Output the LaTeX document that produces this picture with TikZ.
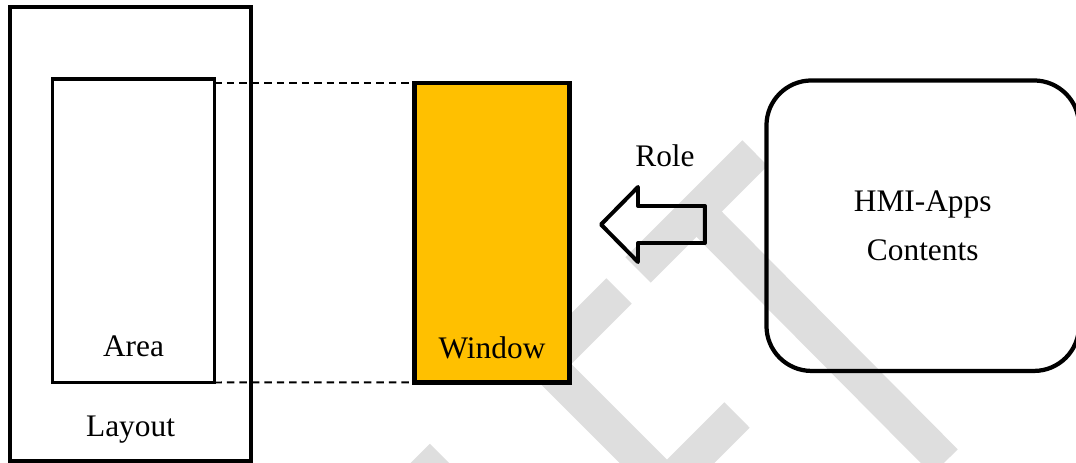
\documentclass[tikz,border=0pt]{standalone}
\usepackage{fontspec}
\setmainfont{Liberation Serif}
\usetikzlibrary{positioning}
\definecolor{winfill}{HTML}{FFC000}
\definecolor{markgray}{HTML}{DEDEDE}

\begin{document}
\begin{tikzpicture}[
    % Box styles
    layoutbox/.style={rectangle, draw=black, line width=1.55pt, inner sep=0pt, outer sep=0pt},
    windowbox/.style={rectangle, draw=black, fill=winfill, line width=1.9pt, inner sep=0pt, outer sep=0pt},
    appbox/.style={rectangle, rounded corners=0.635cm, draw=black, line width=1.7pt, align=center, inner sep=0pt, outer sep=0pt, font=\fontsize{12.6}{19.6}\selectfont},
    % Label style
    boxlabel/.style={font=\fontsize{12.6}{15}\selectfont, inner sep=0pt},
    % Mapping line style
    mapline/.style={dash pattern=on 3pt off 2pt, line width=0.8pt},
    % Block arrow style
    rolearrow/.style={draw=black, line width=1.6pt, line join=round},
    % Watermark stroke style
    markstroke/.style={markgray, line width=14.4pt}
]

    \useasboundingbox (0,0) rectangle (15.184,6.533);

    % === WATERMARK ===
    \draw[markstroke] (9.003,2.724) -- (10.654,4.374);
    \draw[markstroke] (9.828,3.549) -- (13.335,0.014);
    \draw[markstroke, line join=miter] (8.735,2.427) -- (7.705,1.397) -- (9.412,-0.310) -- (10.400,0.677);
    \draw[markstroke] (6.244,0.092) -- (5.544,-0.608);

    % === LAYOUT ===
    \node[layoutbox, minimum width=3.401cm, minimum height=6.406cm] (layout) at (1.842,3.231) {};
    \node[boxlabel, anchor=base] (layouttext) at ([yshift=0.346cm]layout.south) {Layout};

    % Area inside the layout
    \node[layoutbox, minimum width=2.286cm, minimum height=4.283cm] (area) at (1.884,3.277) {};
    \node[boxlabel, anchor=base] (areatext) at ([yshift=0.36cm]area.south) {Area};

    % === WINDOW ===
    \node[windowbox, minimum width=2.187cm, minimum height=4.226cm] (window) at (6.943,3.249) {};
    \node[boxlabel, anchor=base] (windowtext) at ([yshift=0.332cm]window.south) {Window};

    % Area to window mapping
    \draw[mapline] (area.east |- window.north west) -- (window.north west);
    \draw[mapline] (area.south east) -- (window.south west);

    % === HMI APPS ===
    \node[appbox, minimum width=4.410cm, minimum height=4.099cm] (apps) at (13.021,3.348) {HMI-Apps\\Contents};

    % Role arrow
    \coordinate (roletip) at (8.481,3.365);
    \draw[rolearrow] (roletip) -- ++(0.522,0.529) -- ++(0,-0.268) -- ++(0.945,0) -- ++(0,-0.522) -- ++(-0.945,0) -- ++(0,-0.268) -- cycle;
    \node[boxlabel, anchor=base] (roletext) at (9.384,4.181) {Role};

\end{tikzpicture}
\end{document}
